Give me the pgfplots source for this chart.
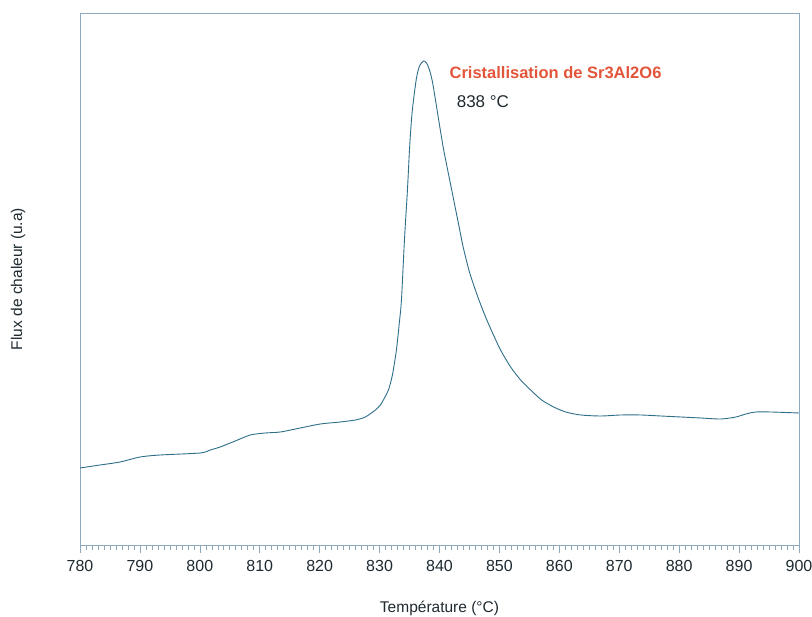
\documentclass[border=0pt]{standalone}
\usepackage{pgfplots}
\pgfplotsset{compat=1.18}
\usepackage{fontspec}
\setmainfont{Liberation Sans}
\definecolor{axcol}{HTML}{8FA9BC}
\definecolor{curve}{HTML}{2E6E8A}
\definecolor{redtxt}{HTML}{E2553A}
\definecolor{txt}{HTML}{1E2A30}
\begin{document}
\begin{tikzpicture}[x=1pt,y=1pt]
\begin{axis}[
  at={(0,0)}, anchor=south west,
  scale only axis, width=719pt, height=532pt,
  xmin=780, xmax=900, ymin=0, ymax=532,
  axis line style={axcol, line width=0.9pt},
  xtick={780,790,...,900},
  minor x tick num=9,
  ytick=\empty,
  xtick pos=bottom,
  tick align=outside,
  major tick length=8pt, minor tick length=5pt,
  every tick/.style={axcol, line width=0.6pt},
  tick label style={font=\fontsize{16}{19}\selectfont, text=txt},
  /pgf/number format/assume math mode=true,
  /pgf/number format/1000 sep={},
  xticklabel style={yshift=-4pt},
  xlabel={Température (°C)},
  xlabel style={font=\fontsize{15.5}{18}\selectfont, text=txt, at={(axis description cs:0.5,0)}, anchor=center, yshift=-63pt},
  ylabel={Flux de chaleur (u.a)},
  ylabel style={font=\fontsize{15.5}{18}\selectfont, text=txt, at={(axis description cs:-0.0862,0.5)}, anchor=center},
  clip=false,
]
\addplot[curve, line width=0.9pt, smooth, tension=0.45] coordinates {
(780.00,77) (783.34,80) (786.69,83) (790.03,88) (793.37,90) (800.06,92)
(801.73,95) (803.40,98) (805.91,104) (808.41,110) (810.92,112) (813.43,113)
(816.77,117) (820.11,121) (823.45,123) (825.96,125) (827.63,128)
(829.30,135) (830.14,140) (830.81,147) (831.48,155) (832.14,170) (832.81,195)
(833.31,223) (833.65,245) (834.15,305) (834.65,355) (834.99,395) (835.32,425)
(835.66,445) (836.16,467) (836.66,479) (837.33,484) (837.83,482) (838.33,475)
(838.83,463) (839.33,445) (840.00,420) (840.67,396) (841.50,371) (842.34,346)
(843.18,321) (843.95,298) (845.00,273) (846.40,248) (847.69,228) (848.86,212)
(850.19,195) (851.87,178) (853.54,165) (855.21,155) (857.05,145) (859.05,138)
(861.06,133) (863.57,130) (866.91,129) (870.25,130) (873.59,130) (876.94,129)
(880.28,128) (883.62,127) (886.96,126) (889.47,128) (891.14,131) (892.81,133)
(895.32,133) (900.00,132)
};
\node[anchor=west, font=\bfseries\fontsize{16.5}{19}\selectfont, text=redtxt] at (axis cs:841.1,472) {Cristallisation de Sr3Al2O6};
\node[anchor=west, font=\fontsize{17}{20}\selectfont, text=txt] at (axis cs:842.3,443) {838 °C};
\end{axis}
\pgfresetboundingbox
\useasboundingbox (-80pt,-72pt) rectangle (732pt,545pt);
\end{tikzpicture}
\end{document}
